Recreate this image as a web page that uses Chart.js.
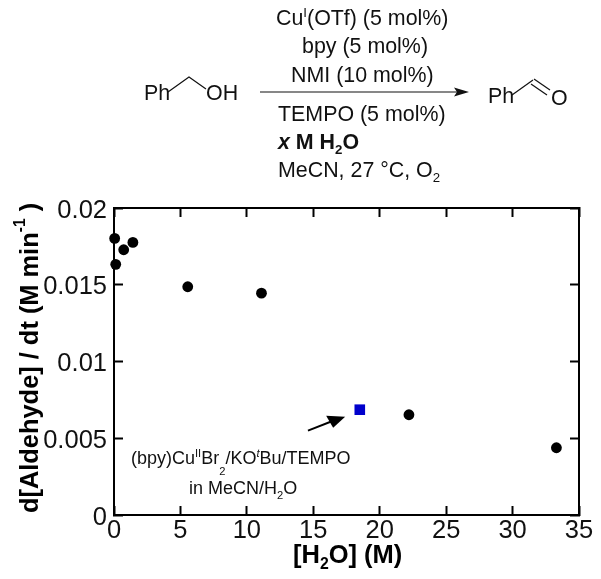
<!DOCTYPE html>
<html><head><meta charset="utf-8">
<style>html,body{margin:0;padding:0;background:#fff}canvas{display:block}</style>
<script src="https://cdn.jsdelivr.net/npm/chart.js@4"></script>
</head><body><canvas id="c" width="601" height="579"></canvas>
<script>
const waterM = [0.05, 0.13, 0.73, 1.42, 5.55, 11.1, 22.2, 33.3];
const rate = [0.01802, 0.01633, 0.01728, 0.01776, 0.01487, 0.01445, 0.00653, 0.00438];
const squareWaterM = [18.5];
const squareRate = [0.00686];
const xTicks = ['0','5','10','15','20','25','30','35'];
const yTicks = ['0','0.005','0.01','0.015','0.02'];
const FONT = '"Liberation Sans", Arial, sans-serif';

function runs(ctx, x, y, list, size, weight, opt) {
  opt = opt || {};
  let cx = x;
  for (const [t, kind, extra] of list) {
    const small = kind === 'sub' || kind === 'sup';
    const s = small ? size * 0.62 : size;
    const it = extra === 'i' ? 'italic ' : '';
    ctx.font = `${it}${weight} ${s}px ${FONT}`;
    const dy = kind === 'sub' ? size * (opt.subDrop || 0.25) : kind === 'sup' ? -size * (opt.supRise || 0.38) : 0;
    ctx.fillText(t, cx, y + dy);
    cx += ctx.measureText(t).width;
  }
}
function poly(ctx, pts, w) {
  ctx.lineWidth = w; ctx.beginPath();
  pts.forEach((p, i) => i ? ctx.lineTo(p[0], p[1]) : ctx.moveTo(p[0], p[1]));
  ctx.stroke();
}
const overlay = {
  id: 'overlay',
  afterDraw(chart) {
    const ctx = chart.ctx, sx = chart.scales.x, sy = chart.scales.y;
    ctx.save();
    ctx.fillStyle = '#111'; ctx.strokeStyle = '#111';
    ctx.textAlign = 'left'; ctx.textBaseline = 'alphabetic';
    const S = 21.4;
    runs(ctx, 276, 25, [['Cu'],['I','sup'],['(OTf) (5 mol%)']], S, 'normal');
    runs(ctx, 302, 53, [['bpy (5 mol%)']], S, 'normal');
    runs(ctx, 291, 82, [['NMI (10 mol%)']], S, 'normal');
    runs(ctx, 278, 121, [['TEMPO (5 mol%)']], S, 'normal');
    runs(ctx, 278, 149, [['x ','', 'i'],['M H'],['2','sub'],['O']], S, 'bold');
    runs(ctx, 278, 177, [['MeCN, 27 °C, O'],['2','sub']], S, 'normal');
    runs(ctx, 144, 100, [['Ph']], S, 'normal');
    runs(ctx, 206, 100, [['OH']], S, 'normal');
    runs(ctx, 488, 103, [['Ph']], S, 'normal');
    runs(ctx, 551, 105, [['O']], S, 'normal');
    poly(ctx, [[168,92],[189,77],[206,89]], 1.2);
    poly(ctx, [[512,95],[533,80]], 1.2);
    poly(ctx, [[534,79],[550,90]], 1.2);
    poly(ctx, [[531,84],[547,95]], 1.2);
    poly(ctx, [[260,92],[458,92]], 1.2);
    ctx.beginPath(); ctx.moveTo(469,92); ctx.lineTo(454,87.5); ctx.lineTo(457,92); ctx.lineTo(454,96.5); ctx.closePath(); ctx.fill();

    const A = 18;
    runs(ctx, 131, 464, [['(bpy)Cu'],['II','sup'],['Br'],['2','sub'],['/KO'],['t','sup','i'],['Bu/TEMPO']], A, 'normal', {subDrop:0.6});
    runs(ctx, 189, 494, [['in MeCN/H'],['2','sub'],['O']], A, 'normal', {subDrop:0.3});
    const ax0 = sx.getPixelForValue(14.6), ay0 = sy.getPixelForValue(0.0055), ax1 = sx.getPixelForValue(17.4), ay1 = sy.getPixelForValue(0.0064);
    ctx.strokeStyle = '#000'; ctx.fillStyle = '#000';
    poly(ctx, [[ax0, ay0], [ax1 - 12, ay1 + 4]], 2);
    ctx.beginPath(); ctx.moveTo(ax1, ay1); ctx.lineTo(ax1 - 19, ay1 - 1); ctx.lineTo(ax1 - 15, ay1 + 6); ctx.lineTo(ax1 - 12, ay1 + 11); ctx.closePath(); ctx.fill();

    ctx.fillStyle = '#000';
    runs(ctx, 293, 563, [['[H'],['2','sub'],['O] (M)']], 25.5, 'bold');
    ctx.translate(38, 513); ctx.rotate(-Math.PI / 2);
    runs(ctx, 0, 0, [['d[Aldehyde] / dt (M min'],['-1','sup'],[' )']], 25.4, 'bold', {supRise:0.5});
    ctx.restore();
  }
};
const grid = {drawOnChartArea:false, drawTicks:true, tickLength:-9, tickWidth:2, tickColor:'#000'};
const border = {display:true, color:'#000', width:2};
const fit = (prop, v) => s => { s[prop] = v; s.paddingLeft = 0; s.paddingRight = 0; s.paddingTop = 0; s.paddingBottom = 0; };
new Chart(document.getElementById('c'), {
  type: 'scatter',
  data: { datasets: [
    { data: waterM.map((x, i) => ({x, y: rate[i]})), pointStyle:'circle', pointRadius:5.4, backgroundColor:'#000', borderColor:'#000', borderWidth:0, clip:false },
    { data: squareWaterM.map((x, i) => ({x, y: squareRate[i]})), pointStyle:'rect', pointRadius:7.5, backgroundColor:'#0000cc', borderColor:'#0000cc', borderWidth:0, clip:false }
  ]},
  plugins: [overlay],
  options: {
    responsive:false, animation:false, devicePixelRatio:1,
    layout:{padding:0},
    plugins:{legend:{display:false}, tooltip:{enabled:false}},
    scales:{
      x:{type:'linear', position:'bottom', min:0, max:35, grid, border,
         afterFit:fit('height',64),
         ticks:{stepSize:5, padding:10, maxRotation:0, autoSkip:false, color:'#111', font:{family:FONT,size:25.5}, callback:(v)=>xTicks[v/5]}},
      x2:{type:'linear', position:'top', min:0, max:35, grid, border,
         afterFit:fit('height',208),
         ticks:{stepSize:5, display:false}},
      y:{type:'linear', position:'left', min:0, max:0.02, grid, border,
         afterFit:fit('width',114),
         ticks:{stepSize:0.005, padding:16, labelOffset:2.5, autoSkip:false, color:'#111', font:{family:FONT,size:25.5}, callback:(v)=>yTicks[Math.round(v/0.005)]}},
      y2:{type:'linear', position:'right', min:0, max:0.02, grid, border,
         afterFit:fit('width',22),
         ticks:{stepSize:0.005, display:false}}
    }
  }
});
</script></body></html>
